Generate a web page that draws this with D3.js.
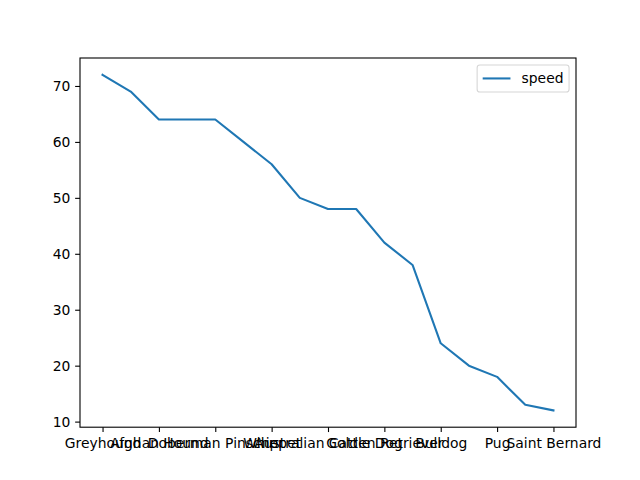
<!DOCTYPE html>
<html><head><meta charset="utf-8">
<script src="https://cdn.jsdelivr.net/npm/d3@7"></script>
<style>body{margin:0;background:#fff}svg{display:block}</style>
</head><body>
<svg id="c" width="640" height="480"></svg>
<script>
const breeds = ["Greyhound","Saluki","Afghan Hound","Vizsla","Doberman Pinscher","Dalmatian","Whippet","Border Collie","Australian Cattle Dog","Jack Russell Terrier","Golden Retriever","Labrador Retriever","Bulldog","Chihuahua","Pug","Basset Hound","Saint Bernard"];
const speed = [72,69,64,64,64,60,56,50,48,48,42,38,24,20,18,13,12];
const yTicks = [10,20,30,40,50,60,70];
const seriesName = "speed";

const fs = 13.89;
const svg = d3.select("#c");
const L=80, R=576, T=58, B=427.2;
const n = speed.length;
const xm = (n-1)*0.05;
const x = d3.scaleLinear().domain([-xm, n-1+xm]).range([L,R]);
const ymin = d3.min(speed), ymax = d3.max(speed), ym=(ymax-ymin)*0.05;
const y = d3.scaleLinear().domain([ymin-ym, ymax+ym]).range([B,T]);
const font = "DejaVu Sans, sans-serif";

const xTickIdx = d3.range(0, n, 2);
const xAxis = d3.axisBottom(x).tickValues(xTickIdx).tickFormat(i=>breeds[i]).tickSizeOuter(0).tickSize(4.86).tickPadding(6.4);
const gx = svg.append("g").attr("transform",`translate(0,${B})`).call(xAxis);
const yAxis = d3.axisLeft(y).tickValues(yTicks).tickSizeOuter(0).tickSize(4.86).tickPadding(4.86);
const gy = svg.append("g").attr("transform",`translate(${L},0)`).call(yAxis);
[gx,gy].forEach(g=>{
  g.select(".domain").remove();
  g.selectAll("line").attr("stroke","#000").attr("stroke-width",1.1);
  g.selectAll("text").attr("font-family",font).attr("font-size",fs).attr("fill","#000");
});

svg.append("path").datum(speed)
  .attr("d", d3.line().x((d,i)=>x(i)).y(d=>y(d)))
  .attr("fill","none").attr("stroke","#1f77b4").attr("stroke-width",2.08)
  .attr("stroke-linecap","square").attr("stroke-linejoin","round");

svg.append("rect").attr("x",L).attr("y",T).attr("width",R-L).attr("height",B-T)
  .attr("fill","none").attr("stroke","#000").attr("stroke-width",1.1);

// legend
const lg = svg.append("g");
const pad = 0.5*fs;
const txt = lg.append("text").attr("font-family",font).attr("font-size",fs).text(seriesName);
const tw = txt.node().getComputedTextLength();
const bw = 0.4*fs + 2*fs + 0.8*fs + tw + 0.4*fs;
const bh = 0.4*fs*2 + fs*1.0 + 2;
const bx = R - pad - bw, by = T + pad;
lg.insert("rect","text").attr("x",bx).attr("y",by).attr("width",bw).attr("height",bh)
  .attr("rx",2.8).attr("fill","#fff").attr("fill-opacity",0.8)
  .attr("stroke","#d6d6d6").attr("stroke-width",1.1);
const cy = by + bh/2;
lg.append("line").attr("x1",bx+0.4*fs).attr("x2",bx+2.4*fs).attr("y1",cy).attr("y2",cy)
  .attr("stroke","#1f77b4").attr("stroke-width",2.08);
txt.attr("x",bx+3.2*fs).attr("y",cy).attr("dy","0.3em");
</script>
</body></html>
